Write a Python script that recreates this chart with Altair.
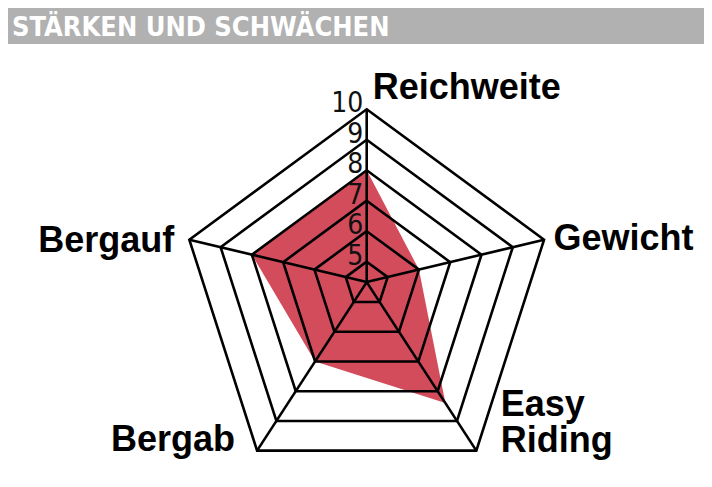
import altair as alt
import pandas as pd

# ---- data ----
categories = ["Reichweite", "Gewicht", "Easy Riding", "Bergab", "Bergauf"]
scores = [8, 6, 8.4, 7, 8]
angles_deg = [90, 18, -54, -126, 162]
ring_levels = [5, 6, 7, 8, 9, 10]
ring_labels = ["5", "6", "7", "8", "9", "10"]
title_text = ["STÄRKEN UND SCHWÄCHEN"]

# ---- styling ----
RED = "#d24c5b"
GRAY = "#b1b1b1"
V0 = 4.33
VMAX = 10
SKEW = 0.0843
LABEL_FONT = "Liberation Sans"
NUM_FONT = "Liberation Sans Narrow, DejaVu Sans Condensed, sans-serif"
TITLE_FONT = "DejaVu Sans Condensed, sans-serif"

axes_df = pd.DataFrame({"cat": categories, "angle": angles_deg,
                        "idx": list(range(len(categories))), "score": scores})
rings_df = pd.DataFrame([
    {"ring": lv, "angle": a, "idx": i}
    for lv in ring_levels for i, a in enumerate(angles_deg)
])
ticks_df = pd.DataFrame({"ring": ring_levels, "label": ring_labels})
title_df = pd.DataFrame({"t": title_text})

xs = alt.Scale(domain=[-1.9233, 1.8086], nice=False, zero=False)
ys = alt.Scale(domain=[-1.0117, 1.4526], nice=False, zero=False)


def X(f="x"):
    return alt.X(f"{f}:Q", scale=xs, axis=None)


def Y(f="y"):
    return alt.Y(f"{f}:Q", scale=ys, axis=None)


def ru(field):
    return f"(datum.{field} - {V0}) / ({VMAX} - {V0})"


def pos(chart, field):
    return chart.transform_calculate(
        r=ru(field)
    ).transform_calculate(
        x="datum.r * cos(datum.angle * PI / 180)",
        y=f"datum.r * sin(datum.angle * PI / 180) - {SKEW} * datum.r",
    )


# title bar
bar = alt.Chart(title_df).mark_rect(color=GRAY).encode(
    x=alt.value(0), x2=alt.value(696), y=alt.value(0), y2=alt.value(36)
)
title = alt.Chart(title_df).mark_text(
    align="left", baseline="alphabetic", color="white",
    font=TITLE_FONT, fontWeight="bold", fontSize=27
).encode(x=alt.value(4), y=alt.value(28), text="t:N")

# data polygon
poly = pos(alt.Chart(axes_df), "score").mark_line(
    interpolate="linear-closed", fill=RED, strokeOpacity=0, fillOpacity=1
).encode(x=X(), y=Y(), order="idx:Q")

# grid rings
rings = pos(alt.Chart(rings_df), "ring").mark_line(
    interpolate="linear-closed", color="black", strokeWidth=2.6
).encode(x=X(), y=Y(), detail="ring:N", order="idx:Q")

# spokes
spokes = alt.Chart(axes_df).transform_calculate(
    x="cos(datum.angle * PI / 180)",
    y=f"sin(datum.angle * PI / 180) - {SKEW}",
    x0="0", y0="0"
).mark_rule(color="black", strokeWidth=2.6).encode(
    x=X("x0"), y=Y("y0"), x2="x:Q", y2="y:Q"
)

# ring value labels
ticks = alt.Chart(ticks_df).transform_calculate(
    r=ru("ring")
).transform_calculate(
    x="0", y=f"datum.r - {SKEW} * datum.r"
).mark_text(
    align="right", baseline="alphabetic", dx=-3.5, dy=3,
    font=NUM_FONT, fontSize=28, color="#111111"
).encode(x=X(), y=Y(), text="label:N")


def cat_label(name, align, dx, dy, **kw):
    return alt.Chart(axes_df).transform_filter(
        alt.datum.cat == name
    ).transform_calculate(
        x="cos(datum.angle * PI / 180)",
        y=f"sin(datum.angle * PI / 180) - {SKEW}",
    ).mark_text(
        align=align, baseline="alphabetic", dx=dx, dy=dy,
        font=LABEL_FONT, fontWeight="bold", fontSize=36, color="black", **kw
    ).encode(x=X(), y=Y(), text="cat:N")


labels = [
    cat_label("Reichweite", "left", 6, -10),
    cat_label("Gewicht", "left", 9.5, 10),
    cat_label("Easy Riding", "left", 24.5, -35, lineBreak=" ", lineHeight=36),
    cat_label("Bergab", "right", -22, 0),
    cat_label("Bergauf", "right", -15, 12),
]

chart = alt.layer(bar, title, poly, rings, spokes, ticks, *labels).properties(
    width=696, height=465, padding=0,
    autosize=alt.AutoSizeParams(type="none")
).configure_view(strokeWidth=0)

chart.save("out.html", embed_options={"renderer": "svg", "actions": False})
